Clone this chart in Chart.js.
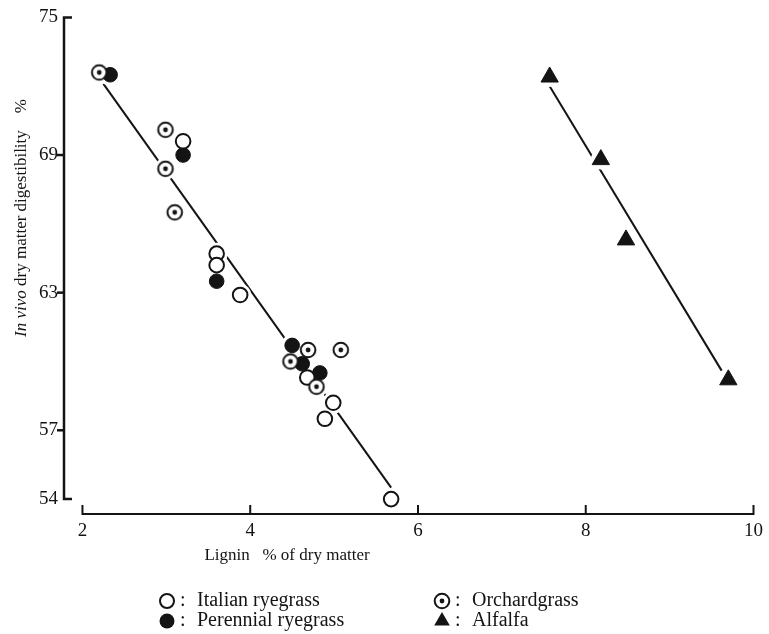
<!DOCTYPE html>
<html>
<head>
<meta charset="utf-8">
<script src="https://cdn.jsdelivr.net/npm/chart.js@4.4.0/dist/chart.umd.min.js"></script>
<style>
body { margin: 0; background: #fff; }
</style>
</head>
<body>
<canvas id="grafica" width="769" height="634"></canvas>
<script>
// ejes
const xTicks = [2, 4, 6, 8, 10]
const yTicks = [54, 57, 63, 69, 75]

// puntos
const italianX = [3.2, 3.6, 3.6, 3.88, 4.68, 4.99, 4.89, 5.68]
const italianY = [69.6, 64.7, 64.2, 62.9, 59.3, 58.2, 57.5, 54.0]
const perennialX = [2.33, 3.2, 3.6, 4.5, 4.62, 4.83]
const perennialY = [72.5, 69.0, 63.5, 60.7, 59.9, 59.5]
const orchardX = [2.2, 2.99, 2.99, 3.1, 4.69, 5.08, 4.48, 4.79]
const orchardY = [72.6, 70.1, 68.4, 66.5, 60.5, 60.5, 60.0, 58.9]
const alfalfaX = [7.57, 8.18, 8.48, 9.7]
const alfalfaY = [72.4, 68.8, 65.3, 59.2]

// rectas de regresion
const grassLineX = [2.25, 5.68]
const grassLineY = [72.1, 54.5]
const alfalfaLineX = [7.57, 9.62]
const alfalfaLineY = [72.0, 59.6]

const ink = "#141414"
const serif = "'Liberation Serif', 'DejaVu Serif', serif"

const pares = (xs, ys) => xs.map((v, i) => ({ x: v, y: ys[i] }))

// marca de orchardgrass: circulo con punto
const orchardMark = document.createElement("canvas")
orchardMark.width = 20
orchardMark.height = 20
let oc = orchardMark.getContext("2d")
oc.beginPath()
oc.arc(10, 10, 7.3, 0, 2 * Math.PI)
oc.fillStyle = "#fff"
oc.fill()
oc.lineWidth = 2
oc.strokeStyle = ink
oc.stroke()
oc.beginPath()
oc.arc(10, 10, 2.4, 0, 2 * Math.PI)
oc.fillStyle = ink
oc.fill()

const ejesPlugin = {
    id: "ejes",
    afterDraw(chart) {
        const ctx = chart.ctx
        const sx = chart.scales.x
        const sy = chart.scales.y
        const left = chart.chartArea.left
        const bottom = chart.chartArea.bottom
        ctx.save()
        ctx.strokeStyle = ink
        ctx.lineCap = "butt"

        // eje y
        let top = sy.getPixelForValue(yTicks[yTicks.length - 1])
        let low = sy.getPixelForValue(yTicks[0])
        ctx.lineWidth = 2.5
        ctx.beginPath()
        ctx.moveTo(left + 8, top)
        ctx.lineTo(left, top)
        ctx.lineTo(left, low)
        ctx.lineTo(left + 8, low)
        ctx.stroke()
        yTicks.slice(1, -1).forEach(v => {
            let py = sy.getPixelForValue(v)
            ctx.beginPath()
            ctx.moveTo(left - 7, py)
            ctx.lineTo(left + 1, py)
            ctx.stroke()
        })

        // eje x
        let x0 = sx.getPixelForValue(xTicks[0])
        let x1 = sx.getPixelForValue(xTicks[xTicks.length - 1])
        ctx.lineWidth = 2
        ctx.beginPath()
        ctx.moveTo(x0, bottom - 9)
        ctx.lineTo(x0, bottom)
        ctx.lineTo(x1, bottom)
        ctx.lineTo(x1, bottom - 9)
        ctx.stroke()
        xTicks.slice(1, -1).forEach(v => {
            let px = sx.getPixelForValue(v)
            ctx.beginPath()
            ctx.moveTo(px, bottom - 9)
            ctx.lineTo(px, bottom)
            ctx.stroke()
        })

        ctx.fillStyle = ink
        ctx.textBaseline = "middle"

        // titulo eje x
        ctx.font = "17px " + serif
        ctx.textAlign = "center"
        ctx.fillText("Lignin   % of dry matter", 287, 556)

        // titulo eje y (In vivo en cursiva)
        ctx.save()
        ctx.translate(22, 218)
        ctx.rotate(-Math.PI / 2)
        ctx.textAlign = "left"
        const partes = [
            ["italic 17px " + serif, "In vivo"],
            ["17px " + serif, " dry matter digestibility    %"]
        ]
        let total = 0
        partes.forEach(p => { ctx.font = p[0]; total += ctx.measureText(p[1]).width })
        let pos = -total / 2
        partes.forEach(p => {
            ctx.font = p[0]
            ctx.fillText(p[1], pos, 0)
            pos += ctx.measureText(p[1]).width
        })
        ctx.restore()

        // leyenda
        const filas = [601, 621]
        const cols = [167, 442]
        const marca = (tipo, x, y) => {
            ctx.lineWidth = 2
            ctx.strokeStyle = ink
            ctx.fillStyle = ink
            if (tipo == "open") {
                ctx.beginPath()
                ctx.arc(x, y, 7, 0, 2 * Math.PI)
                ctx.fillStyle = "#fff"
                ctx.fill()
                ctx.stroke()
            } else if (tipo == "filled") {
                ctx.beginPath()
                ctx.arc(x, y, 7.5, 0, 2 * Math.PI)
                ctx.fill()
            } else if (tipo == "dot") {
                ctx.drawImage(orchardMark, x - 10, y - 10)
            } else {
                ctx.beginPath()
                ctx.moveTo(x, y - 9)
                ctx.lineTo(x + 7.8, y + 4.5)
                ctx.lineTo(x - 7.8, y + 4.5)
                ctx.closePath()
                ctx.fill()
            }
            ctx.fillStyle = ink
        }
        const items = [
            ["open", "Italian ryegrass", 0, 0],
            ["dot", "Orchardgrass", 1, 0],
            ["filled", "Perennial ryegrass", 0, 1],
            ["tri", "Alfalfa", 1, 1]
        ]
        ctx.font = "20px " + serif
        ctx.textAlign = "left"
        items.forEach(it => {
            let cx = cols[it[2]]
            let cy = filas[it[3]]
            marca(it[0], cx, cy)
            ctx.fillText(":", cx + 13, cy)
            ctx.fillText(it[1], cx + 30, cy)
        })
        ctx.restore()
    }
}

const ctx = document.getElementById("grafica")

let grafico = new Chart(ctx, {
    type: "scatter",
    data: {
        datasets: [
            {
                label: "Orchardgrass",
                data: pares(orchardX, orchardY),
                pointStyle: orchardMark,
                pointRadius: 8,
                order: 0
            },
            {
                label: "Italian ryegrass",
                data: pares(italianX, italianY),
                pointStyle: "circle",
                pointRadius: 7.3,
                borderWidth: 2,
                borderColor: ink,
                backgroundColor: "#fff",
                order: 1
            },
            {
                label: "Alfalfa",
                data: pares(alfalfaX, alfalfaY),
                pointStyle: "triangle",
                pointRadius: 10,
                borderWidth: 1,
                borderColor: ink,
                backgroundColor: ink,
                order: 1
            },
            {
                label: "Perennial ryegrass",
                data: pares(perennialX, perennialY),
                pointStyle: "circle",
                pointRadius: 7.3,
                borderWidth: 1,
                borderColor: ink,
                backgroundColor: ink,
                order: 2
            },
            {
                label: "halo",
                data: pares(italianX.concat(perennialX, orchardX), italianY.concat(perennialY, orchardY)),
                pointRadius: 11,
                borderWidth: 0,
                backgroundColor: "#fff",
                order: 5
            },
            {
                label: "halo alfalfa",
                data: pares(alfalfaX, alfalfaY),
                pointRadius: 10,
                borderWidth: 0,
                backgroundColor: "#fff",
                order: 5
            },
            {
                label: "grass line",
                data: pares(grassLineX, grassLineY),
                showLine: true,
                pointRadius: 0,
                borderColor: ink,
                borderWidth: 2,
                order: 6
            },
            {
                label: "alfalfa line",
                data: pares(alfalfaLineX, alfalfaLineY),
                showLine: true,
                pointRadius: 0,
                borderColor: ink,
                borderWidth: 2,
                order: 6
            }
        ]
    },
    options: {
        responsive: false,
        animation: false,
        events: [],
        layout: { padding: { left: 0, top: 13, right: 11, bottom: 0 } },
        plugins: {
            legend: { display: false },
            tooltip: { enabled: false }
        },
        scales: {
            x: {
                type: "linear",
                min: 1.78,
                max: 10,
                grid: { display: false, drawTicks: false },
                border: { display: false },
                afterBuildTicks: scale => { scale.ticks = xTicks.map(v => ({ value: v })) },
                afterFit: scale => { scale.height = 120 },
                ticks: {
                    padding: 6,
                    color: ink,
                    font: { family: serif, size: 19 }
                }
            },
            y: {
                type: "linear",
                min: 53.35,
                max: 75,
                grid: { display: false, drawTicks: false },
                border: { display: false },
                afterBuildTicks: scale => { scale.ticks = yTicks.map(v => ({ value: v })) },
                afterFit: scale => { scale.width = 64 },
                ticks: {
                    padding: 6,
                    color: ink,
                    font: { family: serif, size: 19 }
                }
            }
        }
    },
    plugins: [ejesPlugin]
})
</script>
</body>
</html>
